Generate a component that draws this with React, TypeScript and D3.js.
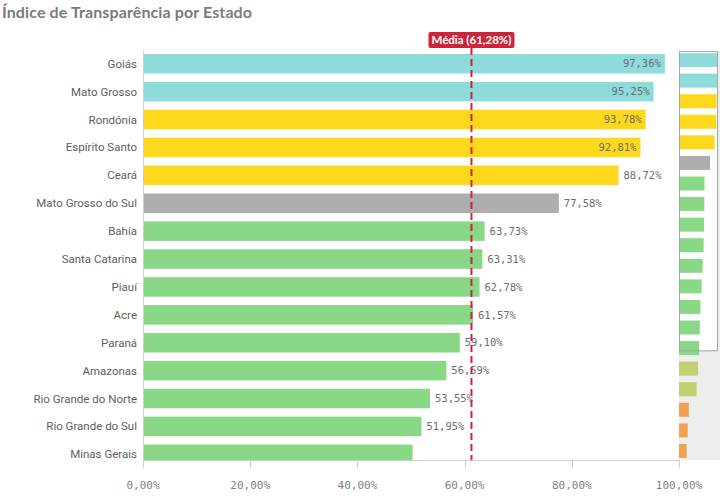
import { useEffect, useRef } from "react"
import * as d3 from "d3"

// Estados (ordem do gráfico) e índices de transparência (%)
const states = [
  "Goiás", "Mato Grosso", "Rondônia", "Espírito Santo", "Ceará",
  "Mato Grosso do Sul", "Bahia", "Santa Catarina", "Piauí", "Acre",
  "Paraná", "Amazonas", "Rio Grande do Norte", "Rio Grande do Sul", "Minas Gerais",
  "Estado 16", "Estado 17", "Estado 18", "Estado 19", "Estado 20",
]
const values = [
  97.36, 95.25, 93.78, 92.81, 88.72,
  77.58, 63.73, 63.31, 62.78, 61.57,
  59.10, 56.59, 53.55, 51.95, 50.30,
  47.82, 43.95, 24.61, 21.73, 19.11,
]
// faixa de cor de cada barra
const groups = [
  "top", "top", "high", "high", "high",
  "mid", "good", "good", "good", "good",
  "good", "good", "good", "good", "good",
  "low", "low", "bad", "bad", "bad",
]
const GROUP_COLORS: Record<string, string> = {
  top: "#8ddbda",
  high: "#fbd81c",
  mid: "#adadad",
  good: "#88d886",
  low: "#c3cf6e",
  bad: "#f0a152",
}
const xTicks = [0, 20, 40, 60, 80, 100]
const visibleCount = 15

const W = 720
const H = 500
const fmt = (v: number) => v.toFixed(2).replace(".", ",") + "%"

export default function App() {
  const svgRef = useRef<SVGSVGElement>(null)

  useEffect(() => {
    if (!svgRef.current) return
    const svg = d3.select(svgRef.current)
    svg.selectAll("*").remove()

    const plot = { left: 143, right: 679, top: 50, bottom: 460 }
    const data = states.map((s, i) => ({ label: s, value: values[i], group: groups[i] }))
    const shown = data.slice(0, visibleCount)
    const mean = d3.mean(values) || 0

    const x = d3.scaleLinear().domain([0, 100]).range([plot.left, plot.right])
    const y = d3.scaleBand()
      .domain(shown.map(d => d.label))
      .range([49.8, 49.8 + visibleCount * 27.9])
      .paddingInner(0.3)
      .paddingOuter(0.15)

    // Title
    svg.append("text")
      .attr("x", 2)
      .attr("y", 18)
      .attr("fill", "#7b7b7b")
      .attr("font-size", "16px")
      .attr("font-weight", "bold")
      .attr("font-family", "Lato, sans-serif")
      .attr("textLength", 250)
      .text("Índice de Transparência por Estado")

    svg.append("clipPath").attr("id", "plotclip")
      .append("rect")
      .attr("x", plot.left).attr("y", plot.top)
      .attr("width", plot.right - plot.left).attr("height", plot.bottom - plot.top)

    const g = svg.append("g").attr("clip-path", "url(#plotclip)")

    g.selectAll(".bar")
      .data(shown)
      .enter()
      .append("rect")
      .attr("x", x(0))
      .attr("y", d => y(d.label)!)
      .attr("width", d => x(d.value) - x(0))
      .attr("height", y.bandwidth())
      .attr("fill", d => GROUP_COLORS[d.group])

    // category labels
    svg.selectAll(".cat")
      .data(shown)
      .enter()
      .append("text")
      .attr("x", plot.left - 6)
      .attr("y", d => y(d.label)! + y.bandwidth() / 2)
      .attr("dy", "0.35em")
      .attr("text-anchor", "end")
      .attr("fill", "#5e5e5e")
      .attr("font-size", "11.5px")
      .attr("font-family", "Roboto, sans-serif")
      .text(d => d.label)

    // value labels (outside if it fits, else inside)
    const labelW = 42
    shown.forEach(d => {
      const top = y(d.label)!
      if (top + y.bandwidth() > plot.bottom) return
      const end = x(d.value)
      const outside = end + 5 + labelW <= plot.right
      svg.append("text")
        .attr("x", outside ? end + 5 : end - 4)
        .attr("y", top + y.bandwidth() / 2)
        .attr("dy", "0.35em")
        .attr("text-anchor", outside ? "start" : "end")
        .attr("fill", "#6e6e6e")
        .attr("font-size", "10.5px")
        .attr("font-family", "DejaVu Sans Mono, monospace")
        .text(fmt(d.value))
    })

    // axes
    svg.append("line")
      .attr("x1", plot.left + 0.5).attr("x2", plot.left + 0.5)
      .attr("y1", plot.top).attr("y2", plot.bottom)
      .attr("stroke", "#cfcfcf")
    svg.append("line")
      .attr("x1", plot.left).attr("x2", plot.right)
      .attr("y1", plot.bottom + 0.5).attr("y2", plot.bottom + 0.5)
      .attr("stroke", "#cfcfcf")
    svg.selectAll(".tick")
      .data(xTicks)
      .enter()
      .append("line")
      .attr("x1", d => Math.round(x(d)) + 0.5)
      .attr("x2", d => Math.round(x(d)) + 0.5)
      .attr("y1", plot.bottom)
      .attr("y2", plot.bottom + 8)
      .attr("stroke", "#cfcfcf")
    svg.selectAll(".ticklabel")
      .data(xTicks)
      .enter()
      .append("text")
      .attr("x", d => x(d))
      .attr("y", 489)
      .attr("text-anchor", "middle")
      .attr("fill", "#7f7f7f")
      .attr("font-size", "11px")
      .attr("font-family", "DejaVu Sans Mono, monospace")
      .text(d => fmt(d))

    // mean reference line
    const mx = x(mean)
    svg.append("line")
      .attr("x1", mx).attr("x2", mx)
      .attr("y1", plot.top - 2).attr("y2", plot.bottom)
      .attr("stroke", "#cc2439")
      .attr("stroke-width", 2)
      .attr("stroke-dasharray", "7,4")
    const meanText = `Média (${fmt(mean)})`
    const mt = svg.append("text")
      .attr("x", mx)
      .attr("y", 44)
      .attr("text-anchor", "middle")
      .attr("fill", "#fff")
      .attr("font-size", "11.5px")
      .attr("font-weight", "bold")
      .attr("font-family", "Lato, sans-serif")
      .text(meanText)
    const bb = (mt.node() as SVGTextElement).getBBox()
    svg.insert("rect", () => mt.node() as Element)
      .attr("x", bb.x - 3)
      .attr("y", 32)
      .attr("width", bb.width + 6)
      .attr("height", 16)
      .attr("rx", 2)
      .attr("fill", "#cc2439")

    // mini chart (scroll overview)
    const mini = { left: 679, right: 720, top: 51, bottom: 460 }
    svg.append("rect")
      .attr("x", mini.left).attr("y", mini.top)
      .attr("width", mini.right - mini.left).attr("height", mini.bottom - mini.top)
      .attr("fill", "#ededed")
    const my = d3.scaleBand()
      .domain(data.map(d => d.label))
      .range([mini.top, mini.bottom])
      .paddingInner(0.32)
      .paddingOuter(0.1)
    const mxs = d3.scaleLinear().domain([0, 100]).range([mini.left, 719])
    const viewBottom = my(data[visibleCount - 1].label)! + my.step() * 0.45
    svg.append("rect")
      .attr("x", mini.left).attr("y", mini.top)
      .attr("width", 39).attr("height", viewBottom - mini.top)
      .attr("fill", "#fff")
    svg.selectAll(".mini")
      .data(data)
      .enter()
      .append("rect")
      .attr("x", mini.left)
      .attr("y", d => my(d.label)!)
      .attr("width", d => mxs(d.value) - mini.left)
      .attr("height", my.bandwidth())
      .attr("fill", d => GROUP_COLORS[d.group])
    svg.append("rect")
      .attr("x", mini.left + 0.5).attr("y", mini.top + 0.5)
      .attr("width", 38).attr("height", viewBottom - mini.top)
      .attr("fill", "none")
      .attr("stroke", "#a8a8a8")
  }, [])

  return (
    <div style={{ position: "absolute", left: 0, top: 0 }}>
      <svg ref={svgRef} width={W} height={H} style={{ display: "block" }} />
    </div>
  )
}
